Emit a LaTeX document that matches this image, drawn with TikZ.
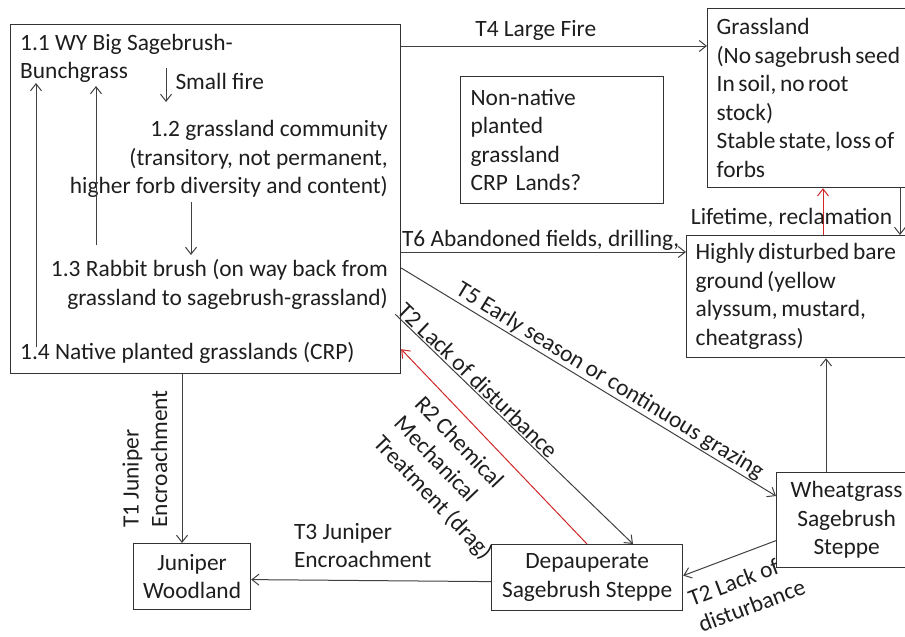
\documentclass[tikz,border=0pt]{standalone}
\usepackage{fontspec}
\setmainfont{Carlito}
\usetikzlibrary{arrows.meta,calc}
\definecolor{txt}{HTML}{1E1E1E}
\definecolor{boxc}{HTML}{333333}
\definecolor{linec}{HTML}{404040}
\definecolor{redc}{HTML}{D02828}
\begin{document}
\begin{tikzpicture}[x=1pt,y=-1pt,
  every node/.style={font=\fontsize{23.4}{28.5}\selectfont, text=txt},
  box/.style={draw=boxc, line width=1.2pt, inner ysep=0pt, rectangle},
  arr/.style={draw=linec, line width=1pt, -{Straight Barb[length=7pt,width=11pt]}},
  arrs/.style={draw=linec, line width=1pt, {Straight Barb[length=7pt,width=11pt]}-},
  redarr/.style={draw=redc, line width=1pt, -{Straight Barb[length=7pt,width=11pt]}},
  redarrs/.style={draw=redc, line width=1pt, {Straight Barb[length=7pt,width=11pt]}-}
]
\useasboundingbox (0,0) rectangle (905,637);
\clip (0,0) rectangle (905,637);

% boxes
\node[box, anchor=north west, minimum width=390pt, minimum height=349pt] (main) at (10,24) {};
\node[box, anchor=north west, text width=250pt, inner xsep=9pt, minimum height=179pt, align=left] (grass) at (707,8)
  {\spaceskip=3.6pt plus 1pt minus 1pt Grassland\\(No sagebrush seed\\In soil, no root\\stock)\\Stable state, loss of\\forbs};
\node[box, anchor=north west, text width=183pt, inner xsep=10pt, minimum height=127pt, align=left] (nn) at (460,76)
  {Non-native\\planted\\grassland\\CRP Lands?};
\node[box, anchor=north west, text width=250pt, inner xsep=9pt, minimum height=122pt, align=left] (dist) at (686,235)
  {\spaceskip=3.6pt plus 1pt minus 1pt Highly disturbed bare\\ground (yellow\\alyssum, mustard,\\cheatgrass)};
\node[box, anchor=north west, minimum width=140pt, minimum height=95pt, align=center] (wheat) at (776,472)
  {Wheatgrass\\Sagebrush\\Steppe};
\node[box, anchor=north west, minimum width=191pt, minimum height=66pt, align=center] (dep) at (491,544)
  {Depauperate\\Sagebrush Steppe};
\node[box, anchor=north west, minimum width=117pt, minimum height=66pt, align=center] (jun) at (133,543)
  {Juniper\\Woodland};

% texts inside the main box
\node[anchor=west, align=left, inner sep=0pt] (t11) at (20,58.5) {1.1 WY Big Sagebrush-\\Bunchgrass};
\node[anchor=east, align=right, inner sep=0pt] (t12) at (388,159)
  {1.2 grassland community\\(transitory, not permanent,\\higher forb diversity and content)};
\node[anchor=east, align=right, inner sep=0pt] (t13) at (388,284.5)
  {1.3 Rabbit brush (on way back from\\grassland to sagebrush-grassland)};
\node[anchor=west, inner sep=0pt] (t14) at (20,353) {1.4 Native planted grasslands (CRP)};

% arrows inside the main box
\coordinate (u1a) at (36,347); \coordinate (u1b) at (36,83);
\coordinate (u2a) at (96,245); \coordinate (u2b) at (96,86);
\coordinate (sfa) at (166,68); \coordinate (sfb) at (166,102);
\coordinate (dna) at (191,202); \coordinate (dnb) at (191,255);
\draw[arr] (u1a) -- (u1b);
\draw[arr] (u2a) -- (u2b);
\draw[arr] (sfa) -- node[right, inner sep=9pt, yshift=3.5pt] (sflab) {Small fire} (sfb);
\draw[arr] (dna) -- (dnb);

% connector end points
\coordinate (t4s) at ([yshift=-22pt]main.north east);
\coordinate (t6s) at ([yshift=-228pt]main.north east);
\coordinate (t5s) at ([yshift=-244pt]main.north east);
\coordinate (t5e) at ([yshift=-24pt]wheat.north west);
\coordinate (t2s) at ([xshift=-6pt,yshift=60pt]main.south east);
\coordinate (t2e) at ([xshift=142pt]dep.north west);
\coordinate (r2s) at ([yshift=25pt]main.south east);
\coordinate (r2e) at ([xshift=96pt]dep.north west);
\coordinate (t1s) at ([xshift=172pt]main.south west);
\coordinate (t3s) at ([yshift=-4pt]dep.west);
\coordinate (t3e) at ([yshift=-3pt]jun.east);
\coordinate (t2bs) at ([yshift=-20.5pt]wheat.west);
\coordinate (t2be) at ([yshift=2pt]dep.east);
\coordinate (wd) at ([xshift=50pt]wheat.north west);
\coordinate (gd) at ([xshift=193pt]grass.south west);
\coordinate (dg) at ([xshift=137pt]dist.north west);

% connectors
\draw[arr] (t4s) -- node[above, pos=0.44, inner sep=5pt] (t4lab) {T4 Large Fire} (t4s -| grass.west);
\draw[arr] (t6s) -- node[above, pos=0.49, inner sep=0.5pt] (t6lab) {T6 Abandoned fields, drilling,} (t6s -| dist.west);
\draw[arr] (t5s) -- node[sloped, above, pos=0.54, inner sep=1pt] (t5lab) {T5 Early season or continuous grazing} (t5e);
\draw[arr] (t2s) -- node[sloped, above, pos=0.32, inner sep=1.5pt] (t2lab) {T2 Lack of disturbance} (t2e);
\draw[redarrs] (r2s) -- node[sloped, below, pos=0.48, align=left, inner sep=13pt] (r2lab)
  {R2 Chemical\\Mechanical\\Treatment (drag)} (r2e);
\draw[arr] (t1s) -- (t1s |- jun.north);
\node[rotate=90, align=left, inner sep=0pt] (t1lab) at (145,459) {T1 Juniper\\Encroachment};
\draw[arr] (t3s) -- node[above, pos=0.535, align=left, inner sep=12pt] (t3lab) {T3 Juniper\\Encroachment} (t3e);
\draw[arrs] (t2be) -- node[sloped, below, pos=0.54, align=left, inner sep=15pt] (t2blab) {T2 Lack of\\disturbance} (t2bs);
\draw[arr] (wd) -- (wd |- dist.south);
\draw[arr] (gd) -- (gd |- dist.north);
\draw[redarr] (dg) -- node[midway, xshift=-31.5pt, yshift=-6pt, inner sep=0pt] (lifelab) {Lifetime, reclamation} (dg |- grass.south);
\end{tikzpicture}
\end{document}
